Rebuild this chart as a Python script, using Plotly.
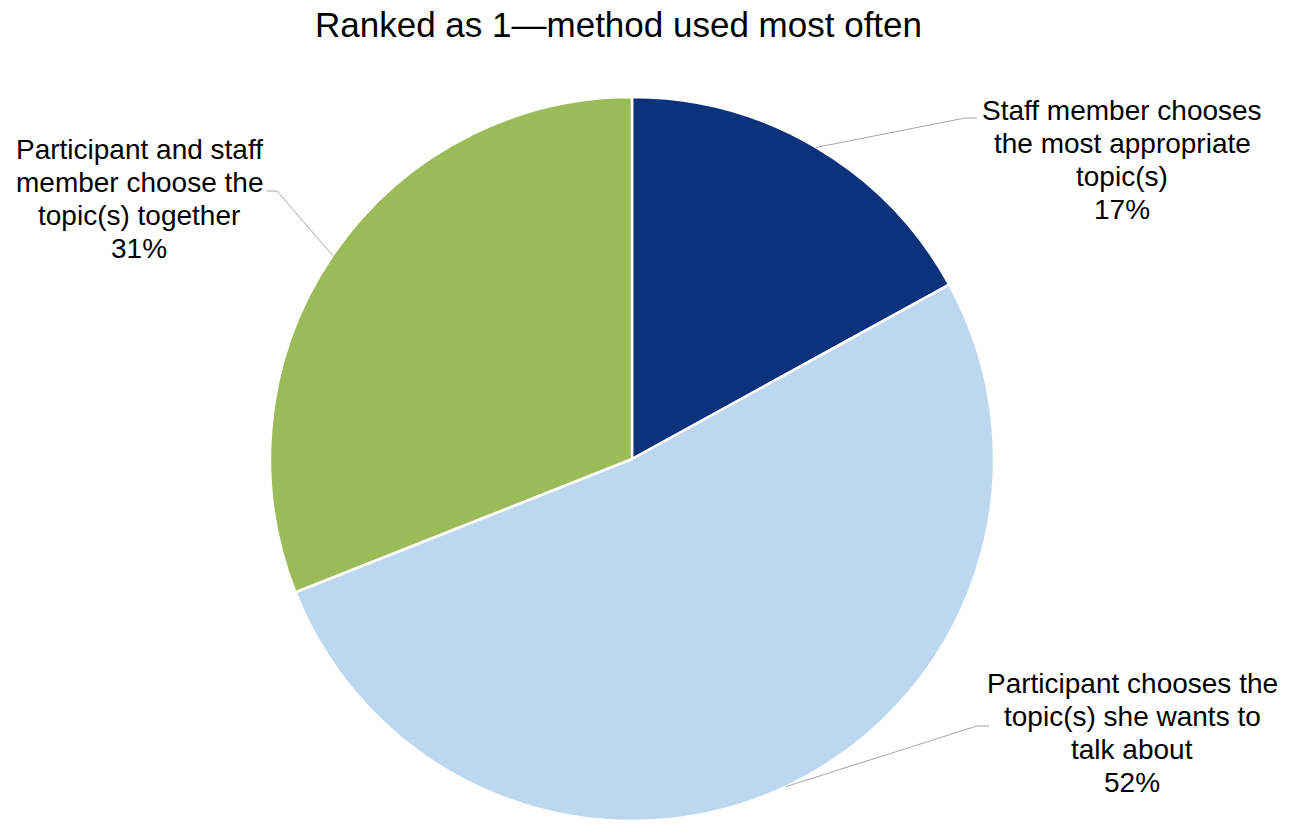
import math
import plotly.graph_objects as go

# Survey shares: how the discussion topic is chosen (ranked 1)
categories = [
    "Staff member chooses<br>the most appropriate<br>topic(s)",
    "Participant chooses the<br>topic(s) she wants to<br>talk about",
    "Participant and staff<br>member choose the<br>topic(s) together",
]
shares = [17, 52, 31]
colors = ["#0B327A", "#BDD7EE", "#9BBB59"]
title_text = "Ranked as 1\u2014method used most often"

W, H = 1293, 826
CX, CY, R = 632, 459, 362  # pie centre and radius in pixels
LINE_GAP = 33                # spacing between label lines in pixels
FONT = "Liberation Sans, Arial, sans-serif"

# label centres and leader elbows (pixels): (label_x, label_y, elbow_x, elbow_y, tail_x)
label_layout = [
    (1122, 160, 965, 118, 977),
    (1132, 733, 977, 726, 989),
    (139, 199, 277, 191, 267),
]


def px(x):
    return x / W


def py(y):
    return 1 - y / H


fig = go.Figure(
    go.Pie(
        values=shares,
        labels=[c.replace("<br>", " ") for c in categories],
        marker=dict(colors=colors, line=dict(color="white", width=2.5)),
        sort=False,
        direction="clockwise",
        rotation=0,
        textinfo="none",
        hoverinfo="skip",
        showlegend=False,
        domain=dict(x=[px(CX - R), px(CX + R)], y=[py(CY + R), py(CY - R)]),
    )
)

shapes = []
annotations = []
total = sum(shares)
cum = 0
for cat, val, (lx, ly, ex, ey, tx) in zip(categories, shares, label_layout):
    # leader line starts on the rim at the slice's mid-angle
    mid = (cum + val / 2) / total * 2 * math.pi
    cum += val
    sx = CX + R * math.sin(mid)
    sy = CY - R * math.cos(mid)
    path = f"M {px(sx)} {py(sy)} L {px(ex)} {py(ey)} L {px(tx)} {py(ey)}"
    shapes.append(
        dict(type="path", xref="paper", yref="paper", path=path,
             line=dict(color="#A6A6A6", width=1))
    )
    lines = cat.split("<br>") + [f"{val}%"]
    n = len(lines)
    for i, line in enumerate(lines):
        y_line = ly + (i - (n - 1) / 2) * LINE_GAP
        annotations.append(
            dict(
                x=px(lx), y=py(y_line), xref="paper", yref="paper",
                text=line, showarrow=False,
                xanchor="center", yanchor="middle", align="center",
                font=dict(family=FONT, size=28, color="#000000"),
            )
        )

annotations.append(
    dict(
        x=px(618), y=py(25), xref="paper", yref="paper",
        text=title_text, showarrow=False, xanchor="center", yanchor="middle",
        font=dict(family=FONT, size=35, color="#000000"),
    )
)

fig.update_layout(
    width=W,
    height=H,
    margin=dict(l=0, r=0, t=0, b=0),
    paper_bgcolor="white",
    plot_bgcolor="white",
    shapes=shapes,
    annotations=annotations,
)

fig.write_html("out.html")
